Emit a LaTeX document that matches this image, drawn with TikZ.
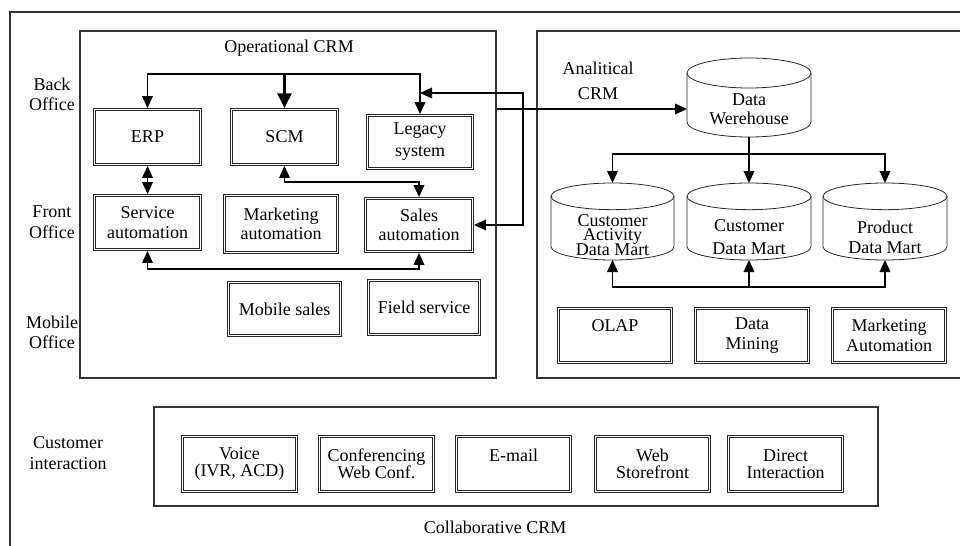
\documentclass[tikz,border=0pt]{standalone}
\usepackage{fontspec}
\setmainfont{Liberation Serif}
\usetikzlibrary{arrows.meta,calc}
\newcommand\fs{\fontsize{13.5}{14.5}\selectfont}
\newcommand\bfsz{\fontsize{13.5}{12.75}\selectfont}
\newcommand\drawcyl[3]{%
  \draw[cylline] ([yshift=-#3]#1.north) ellipse [x radius=#2, y radius=#3];
  \draw[cylline] ([yshift=-#3]#1.north west) -- ([yshift=#3]#1.south west)
     arc [start angle=180, end angle=360, x radius=#2, y radius=#3]
     -- ([yshift=-#3]#1.north east);}
\begin{document}
\begin{tikzpicture}[x=0.75pt,y=0.75pt,
  every node/.style={font=\fs, align=center, inner sep=1pt},
  dbox/.style 2 args={draw=black!85, double, double distance=1.3pt, line width=0.45pt,
     outer sep=1.1pt, minimum width=#1*0.75pt, minimum height=#2*0.75pt},
  frame/.style={draw=black!80, line width=0.8pt},
  cylnode/.style 2 args={draw=none, outer sep=0pt, inner sep=0pt,
     minimum width=#1*0.75pt, minimum height=#2*0.75pt},
  cylline/.style={draw=black!85, line width=0.6pt},
  tri/.tip={Triangle[length=9pt,width=8pt]},
  bigtri/.tip={Triangle[length=11pt,width=10.5pt]},
  conn/.style={line width=1.1pt, -tri},
  conn2/.style={line width=1.1pt, tri-tri},
  connthick/.style={line width=1.8pt, -bigtri},
]
\useasboundingbox (0,0) rectangle (960,-546);
\clip (0,0) rectangle (960,-546);

% frames
\draw[frame] (10,-560) -- (10,-12) -- (975,-12);
\node[frame, minimum width=416*0.75pt, minimum height=347*0.75pt, inner sep=0pt] (ops) at (288,-204.5) {};
\draw[frame] (975,-31) -| (537,-378) -- (975,-378);
\node[frame, minimum width=724*0.75pt, minimum height=99*0.75pt, inner sep=0pt] (collab) at (516,-456.5) {};

% titles and side labels
\node (opt) at (289,-48) {Operational CRM};
\node (back) at (52,-94.5) {Back\\Office};
\node (front) at (52,-222.5) {Front\\[1.5pt]Office};
\node (mob) at (52,-332.5) {Mobile\\Office};
\node (anat) at (598,-80.5) {Analitical\\[4.25pt]CRM};
\node (cust) at (68,-453) {Customer\\[0.75pt]interaction};
\node (collt) at (495,-527) {Collaborative CRM};

% operational boxes
\node[dbox={106}{55}] (erp) at (147.5,-137) {ERP};
\node[dbox={106}{55}] (scm) at (284.5,-137) {SCM};
\node[dbox={105}{53}] (legacy) at (420,-142) {Legacy\\[2pt]system};
\node[dbox={106}{54}] (service) at (147.5,-222.5) {Service\\automation};
\node[dbox={113}{57}] (mkt) at (281,-224) {Marketing\\automation};
\node[dbox={107}{53}] (sales) at (419,-225) {Sales\\automation};
\node[dbox={112}{53}] (mobile) at (284.5,-309) {Mobile sales};
\node[dbox={111}{54}] (field) at (424,-307.5) {Field service};

% analytical
\node[cylnode={124}{79}] (dw) at (749,-97.5) {\rule{0pt}{26pt}Data\\Werehouse};
\node[cylnode={123}{77}] (cam) at (612.5,-221.5) {\rule{0pt}{29pt}Customer\\[-3.5pt]Activity\\[-3.5pt]Data Mart};
\node[cylnode={124}{77}] (cdm) at (749,-221.5) {\rule{0pt}{33pt}Customer\\[2.75pt]Data Mart};
\node[cylnode={124}{77}] (pdm) at (885,-221.5) {\rule{0pt}{33pt}Product\\Data Mart};
\drawcyl{dw}{46.5pt}{11.25pt}
\drawcyl{cam}{46.1pt}{10pt}
\drawcyl{cdm}{46.5pt}{10pt}
\drawcyl{pdm}{46.5pt}{10pt}
\node[dbox={113}{54}] (olap) at (615,-335.5) {OLAP\\\mbox{}};
\node[dbox={113}{54}] (mining) at (752,-335.5) {Data\\Mining};
\node[dbox={113}{54}] (mauto) at (889,-335.5) {Marketing\\Automation};

% collaborative
\node[dbox={114}{55}, font=\bfsz] (voice) at (239.5,-464) {Voice\\(IVR, ACD)};
\node[dbox={114}{55}, font=\bfsz] (conf) at (376.5,-464) {Conferencing\\Web Conf.};
\node[dbox={114}{55}, font=\bfsz] (email) at (513.5,-464) {E-mail\\\mbox{}};
\node[dbox={114}{55}, font=\bfsz] (web) at (652.5,-464) {Web\\Storefront};
\node[dbox={114}{55}, font=\bfsz] (direct) at (785.5,-464) {Direct\\Interaction};

% connectors: operational
\coordinate (tsplit) at (284.5,-74);
\draw[conn] (tsplit) -| (erp.north);
\draw[conn] (tsplit) -| (legacy.north);
\draw[connthick] (tsplit) -- (scm.north);
\draw[conn2] (erp.south) -- (service.north);
\coordinate (sm) at (352,-182);
\draw[conn2] (scm.south) |- (sm) -| (sales.north);
\coordinate (bm) at (284,-269);
\draw[conn2] (service.south) |- (bm) -| (sales.south);
\coordinate (lk) at (legacy.north |- 0,-93);
\coordinate (rc) at (523,-93);
\draw[conn2] (lk) -- (rc) |- (sales.east);
\draw[conn] (ops.east |- 0,-109) -- (dw.west |- 0,-109);

% connectors: analytical
\coordinate (dsplit) at (749,-154);
\draw[conn] (dw.south) -- (cdm.north);
\draw[conn] (dsplit) -| (cam.north);
\draw[conn] (dsplit) -| (pdm.north);
\coordinate (ujoin) at (749,-287);
\draw[conn] (ujoin) -- (cdm.south);
\draw[conn] (ujoin) -| (cam.south);
\draw[conn] (ujoin) -| (pdm.south);
\end{tikzpicture}
\end{document}
